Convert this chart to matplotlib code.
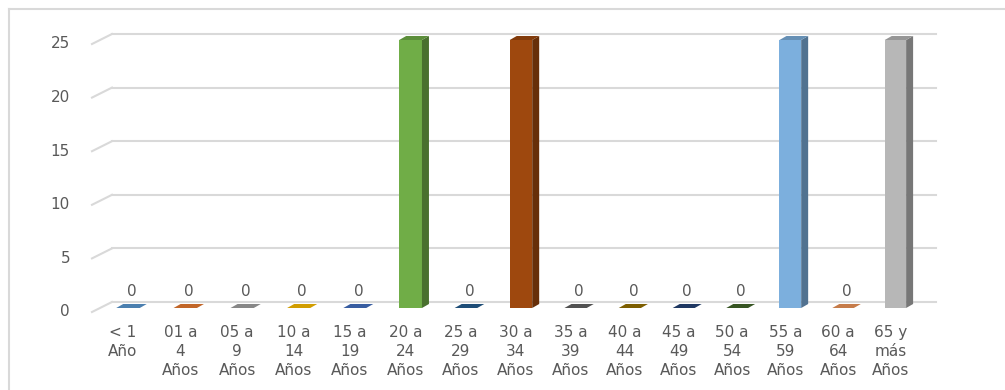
import matplotlib.pyplot as plt
import matplotlib.colors as mcolors
from matplotlib.lines import Line2D
from matplotlib.patches import Polygon
import numpy as np

# --- datos ---
categorias = ["< 1\nAño", "01 a\n4\nAños", "05 a\n9\nAños", "10 a\n14\nAños",
              "15 a\n19\nAños", "20 a\n24\nAños", "25 a\n29\nAños", "30 a\n34\nAños",
              "35 a\n39\nAños", "40 a\n44\nAños", "45 a\n49\nAños", "50 a\n54\nAños",
              "55 a\n59\nAños", "60 a\n64\nAños", "65 y\nmás\nAños"]
valores = [0, 0, 0, 0, 0, 25, 0, 25, 0, 0, 0, 0, 25, 0, 25]
colores = ["#5B9BD5", "#ED7D31", "#A5A5A5", "#FFC000", "#4472C4", "#70AD47",
           "#255E91", "#9E480E", "#636363", "#997300", "#264478", "#43682B",
           "#7CAFDD", "#F1975A", "#B7B7B7"]
yticks = [0, 5, 10, 15, 20, 25]

TXT = "#595959"
GRID = "#D9D9D9"
FS = 11

# perspectiva leve del eje x (las categorías se juntan hacia la derecha)
PB, PC = 57.46, -0.1888


def fwd(v):
    v = np.asarray(v, dtype=float)
    return PB * v + PC * v ** 2


def inv(p):
    p = np.asarray(p, dtype=float)
    return (PB - np.sqrt(PB ** 2 + 4 * PC * p)) / (-2 * PC)


def px_local(v):
    # pixeles por unidad de datos en la posición v
    return PB + 2 * PC * v


W, H = 1005, 390
fig = plt.figure(figsize=(W / 100, H / 100), dpi=100)
ax = fig.add_axes([100 / W, 82 / H, 824 / W, 268 / H])
ax.set_xscale("function", functions=(fwd, inv))
xlim = (float(inv(-28)), float(inv(796)))
ax.set_xlim(*xlim)
ax.set_ylim(0, 25)
ax.axis("off")

px_y = 268 / 25


def sombra(c, f):
    r, g, b = mcolors.to_rgb(c)
    return (r * f, g * f, b * f)


# --- cuadrícula (plano de fondo) ---
gx0 = xlim[0] + 12 / px_local(xlim[0])
gx1 = xlim[1] + 12 / px_local(xlim[1])
for v in yticks:
    gy = v + 6 / px_y
    ax.plot([gx0, gx1], [gy, gy], color=GRID, lw=1.5, zorder=1, clip_on=False)
    ax.plot([xlim[0] - 8 / px_local(xlim[0]), gx0], [v - 4 / px_y, gy], color=GRID,
            lw=1.5, zorder=1, clip_on=False)
    ax.annotate(str(v), (xlim[0], v), xytext=(-30, -4), textcoords="offset pixels",
                ha="right", va="center", fontsize=FS, color=TXT)

# --- barras 3D ---
x = np.arange(len(valores))
w = 0.41
dy = 4 / px_y
ax.bar(x, valores, width=w, color=colores, linewidth=0, zorder=3)
for xi, v, c in zip(x, valores, colores):
    dx = 7 / px_local(xi)
    r = xi + w / 2
    if v > 0:
        lado = [(r, 0), (r + dx, dy), (r + dx, v + dy), (r, v)]
        ax.add_patch(Polygon(lado, closed=True, facecolor=sombra(c, 0.65),
                             linewidth=0, zorder=3, clip_on=False))
    tapa = [(xi - w / 2, v), (r, v), (r + dx, v + dy), (xi - w / 2 + dx, v + dy)]
    ax.add_patch(Polygon(tapa, closed=True, facecolor=sombra(c, 0.82),
                         linewidth=0, zorder=3, clip_on=False))
    ax.annotate(str(v), (xi + dx / 2, v + dy), xytext=(0, 13), textcoords="offset pixels",
                ha="center", va="center", fontsize=FS, color=TXT)

# --- etiquetas de categoría ---
for xi, lab in zip(x, categorias):
    ax.annotate(lab, (xi, 0), xytext=(-5, -17), textcoords="offset pixels",
                ha="center", va="top", fontsize=FS, color=TXT, linespacing=1.32)

# --- borde del gráfico ---
fig.add_artist(Line2D([8.5 / W, 1.0], [(H - 8.5) / H] * 2, color=GRID, lw=1.5,
                      transform=fig.transFigure))
fig.add_artist(Line2D([8.5 / W] * 2, [0, (H - 8.5) / H], color=GRID, lw=1.5,
                      transform=fig.transFigure))

fig.savefig("out.png", dpi=100)
